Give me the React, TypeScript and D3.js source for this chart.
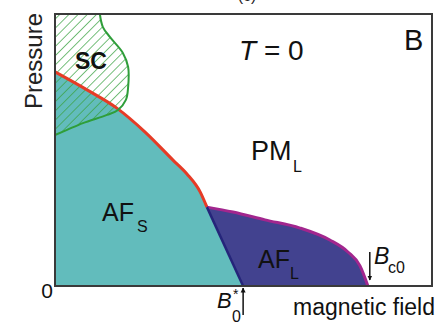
import React from 'react';
import * as d3 from 'd3';

// phase boundaries (field 0..10, pressure 0..10)
const afsBoundary = [
  [0, 7.87], [0.85, 7.21], [1.64, 6.54], [2.39, 5.66], [3.13, 4.63],
  [3.5, 4.12], [3.85, 3.46], [4.03, 2.9],
];
const aflBoundary = [
  [4.03, 2.9], [4.72, 2.72], [5.57, 2.43], [6.5, 2.13], [7.29, 1.69],
  [7.77, 1.25], [8.09, 0.74], [8.3, 0],
];
const afDivider = [[4.03, 2.9], [4.99, 0]];
const scBoundary = [
  [1.19, 10], [1.27, 9.52], [1.46, 9.15], [1.8, 8.57], [1.94, 8.05],
  [1.94, 7.32], [1.88, 6.84], [1.67, 6.47], [1.38, 6.29], [0.74, 5.99],
  [0.32, 5.74], [0, 5.55],
];
const bStar = 4.99;
const bc0 = 8.35;

const W = 439;
const H = 327;
const margin = { top: 14, right: 7, bottom: 41, left: 55 };
const FONT = "'Liberation Sans', Arial, sans-serif";

export default function App() {
  const x = d3.scaleLinear().domain([0, 10]).range([margin.left, W - margin.right]);
  const y = d3.scaleLinear().domain([0, 10]).range([H - margin.bottom, margin.top]);

  const mono = d3.line<number[]>().x(d => x(d[0])).y(d => y(d[1])).curve(d3.curveMonotoneX);
  const smooth = d3.line<number[]>().x(d => x(d[0])).y(d => y(d[1])).curve(d3.curveCatmullRom);
  const straight = d3.line<number[]>().x(d => x(d[0])).y(d => y(d[1]));

  // join a curve onto an open path (drop its leading M)
  const cont = (p: string) => 'L' + p.slice(1);

  const redD = mono(afsBoundary)!;
  const purpleD = mono(aflBoundary)!;

  const tealPath = `M${x(0)},${y(0)}` + cont(redD) + `L${x(afDivider[1][0])},${y(0)}Z`;
  const bluePath = `M${x(afDivider[1][0])},${y(0)}` + cont(purpleD) + 'Z';
  const scPath = smooth(scBoundary) + `L${x(0)},${y(10)}Z`;

  const x0 = x(0), x1 = x(10), y0 = y(0), y1 = y(10);
  const pressY = 61;

  return (
    <svg width={W} height={H} style={{ position: 'absolute', left: 0, top: 0, background: '#fff' }}
      fontFamily={FONT}>
      <defs>
        <pattern id="hatch" patternUnits="userSpaceOnUse" width={6.5} height={6.5}
          patternTransform="rotate(45)">
          <line x1={0} y1={0} x2={0} y2={6.5} stroke="#3aa343" strokeWidth={1.4} />
        </pattern>
        <marker id="arr" viewBox="0 0 10 10" refX={9} refY={5} markerWidth={5} markerHeight={7}
          orient="auto" markerUnits="userSpaceOnUse">
          <path d="M0,0L10,5L0,10z" fill="#111" />
        </marker>
      </defs>

      <text x={247} y={1} fontSize={16} textAnchor="middle" fill="#222">(c)</text>

      <path d={tealPath} fill="#62bcbc" />
      <path d={bluePath} fill="#42428f" />
      <path d={scPath} fill="url(#hatch)" />

      <path d={redD} fill="none" stroke="#e63b26" strokeWidth={3} />
      <path d={purpleD} fill="none" stroke="#a2268e" strokeWidth={3} />
      <path d={straight(afDivider)!} fill="none" stroke="#25257a" strokeWidth={2.5} />
      <path d={smooth(scBoundary)!} fill="none" stroke="#2f9e3a" strokeWidth={2} />

      <rect x={x0} y={y1} width={x1 - x0} height={y0 - y1} fill="none" stroke="#3a3a3a" strokeWidth={2} />

      {/* labels */}
      <text x={36} y={pressY} fontSize={24} fill="#222" textAnchor="middle"
        transform={`rotate(-90, 36, ${pressY})`} dominantBaseline="middle">Pressure</text>
      <text x={91} y={69} fontSize={23} fontWeight="bold" fill="#111" textAnchor="middle">SC</text>
      <text x={239} y={60} fontSize={28} fill="#111">
        <tspan fontStyle="italic">T</tspan> = 0
      </text>
      <text x={404} y={50} fontSize={29} fill="#111">B</text>
      <text x={251} y={160} fontSize={27} fill="#111">PM</text>
      <text x={293} y={172} fontSize={16} fill="#111">L</text>
      <text x={102} y={221} fontSize={25} fill="#111">AF</text>
      <text x={137} y={232} fontSize={16} fill="#111">S</text>
      <text x={258} y={268} fontSize={25} fill="#111">AF</text>
      <text x={290} y={279} fontSize={16} fill="#111">L</text>
      <text x={53} y={298} fontSize={21} fill="#111" textAnchor="end">0</text>
      <text x={435} y={315} fontSize={23} fill="#111" textAnchor="end">magnetic field</text>

      <line x1={x(bStar)} x2={x(bStar)} y1={315} y2={y0 + 2} stroke="#111" strokeWidth={1.5} markerEnd="url(#arr)" />
      <text x={217} y={308} fontSize={22} fontStyle="italic" fill="#111">B</text>
      <text x={232} y={322} fontSize={16} fill="#111">0</text>
      <text x={233} y={299} fontSize={14} fill="#111">*</text>

      <line x1={x(bc0)} x2={x(bc0)} y1={252} y2={y0 - 6} stroke="#111" strokeWidth={1.5} markerEnd="url(#arr)" />
      <text x={374} y={264} fontSize={23} fontStyle="italic" fill="#111">B</text>
      <text x={388} y={273} fontSize={16} fill="#111">c0</text>
    </svg>
  );
}
